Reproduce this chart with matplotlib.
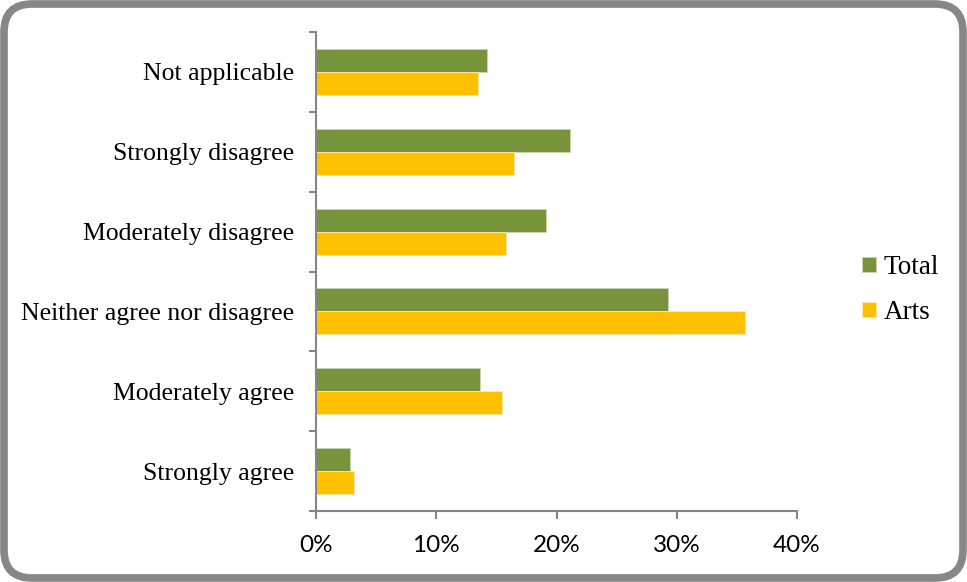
import numpy as np
import matplotlib
matplotlib.use("Agg")
import matplotlib.pyplot as plt
from matplotlib.patches import FancyBboxPatch
from matplotlib.transforms import IdentityTransform
from matplotlib.ticker import FixedLocator, PercentFormatter

# data, bottom to top as drawn
categories = ["Strongly agree", "Moderately agree", "Neither agree nor disagree",
              "Moderately disagree", "Strongly disagree", "Not applicable"]
total = [2.85, 13.6, 29.3, 19.1, 21.1, 14.2]
arts = [3.15, 15.5, 35.7, 15.8, 16.5, 13.5]

green = "#77933C"
yellow = "#FFC000"
grey = "#868686"

fig = plt.figure(figsize=(9.67, 5.82), dpi=100)
ax = fig.add_axes([316 / 967, 71 / 582, 481 / 967, 479 / 582])

y = np.arange(len(categories))
h = 0.2875
ax.barh(y + h / 2, total, height=h, color=green, edgecolor="#c9d6b0", linewidth=0.6, label="Total")
ax.barh(y - h / 2, arts, height=h, color=yellow, edgecolor="#ffe9a8", linewidth=0.6, label="Arts")

ax.set_xlim(0, 40)
ax.set_ylim(-0.5, len(categories) - 0.5)
ax.set_xticks([0, 10, 20, 30, 40])
ax.xaxis.set_major_formatter(PercentFormatter(decimals=0))
ax.set_yticks(y)
ax.set_yticklabels(categories, fontsize=18.5, family="Liberation Serif")
ax.yaxis.set_minor_locator(FixedLocator(np.arange(-0.5, len(categories), 1)))
ax.tick_params(axis="y", which="major", length=0, pad=16)
ax.tick_params(axis="y", which="minor", length=5, width=1.5, color=grey)
ax.tick_params(axis="x", length=5.8, width=1.5, color=grey, pad=11.5)
for lab in ax.get_xticklabels():
    lab.set_fontsize(17.5)
    lab.set_family("Lato")

for s in ["top", "right"]:
    ax.spines[s].set_visible(False)
for s in ["left", "bottom"]:
    ax.spines[s].set_color(grey)
    ax.spines[s].set_linewidth(1.5)

handles, labels = ax.get_legend_handles_labels()
fig.legend(handles, labels, loc="center left", bbox_to_anchor=(862 / 967, 292 / 582),
           frameon=False, borderpad=0, borderaxespad=0, handlelength=0.5, handleheight=0.5,
           handletextpad=0.3, labelspacing=0.75, prop={"family": "Liberation Serif", "size": 19.5})

# rounded outer border
border = FancyBboxPatch((4, 4), 959, 574, boxstyle="round,pad=0,rounding_size=28",
                        transform=IdentityTransform(), facecolor="none",
                        edgecolor="#878787", linewidth=5.5)
fig.patches.append(border)

fig.savefig("out.png", dpi=100)
